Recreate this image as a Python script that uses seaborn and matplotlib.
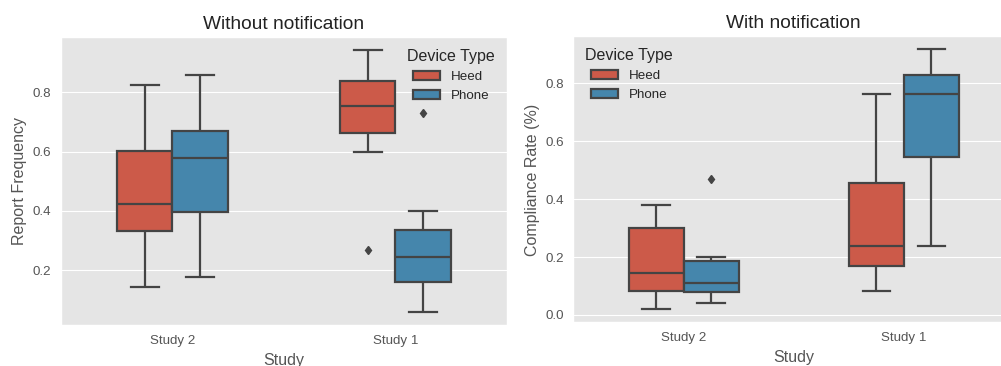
import matplotlib
matplotlib.use("Agg")
import matplotlib.pyplot as plt
import seaborn as sns
import pandas as pd

# ---- data ----
studies = ["Study 2", "Study 1"]
devices = ["Heed", "Phone"]

# Without notification: Report Frequency
wo_heed_study2 = [0.143, 0.24, 0.332, 0.38, 0.422, 0.52, 0.602, 0.70, 0.823]
wo_phone_study2 = [0.178, 0.30, 0.397, 0.50, 0.577, 0.62, 0.669, 0.76, 0.857]
wo_heed_study1 = [0.269, 0.600, 0.664, 0.71, 0.755, 0.80, 0.837, 0.89, 0.941]
wo_phone_study1 = [0.059, 0.11, 0.162, 0.20, 0.245, 0.29, 0.336, 0.400, 0.731]

# With notification: Compliance Rate
w_heed_study2 = [0.019, 0.05, 0.0835, 0.11, 0.144, 0.22, 0.299, 0.34, 0.380]
w_phone_study2 = [0.042, 0.06, 0.079, 0.09, 0.110, 0.15, 0.185, 0.201, 0.469]
w_heed_study1 = [0.082, 0.13, 0.1705, 0.20, 0.237, 0.35, 0.457, 0.60, 0.761]
w_phone_study1 = [0.237, 0.40, 0.544, 0.68, 0.761, 0.80, 0.829, 0.88, 0.916]

palette = ["#E24A33", "#348ABD"]


def long_frame(groups, ycol):
    rows = []
    for (study, device), vals in groups.items():
        for v in vals:
            rows.append({"Study": study, "Device Type": device, ycol: v})
    return pd.DataFrame(rows)


df_wo = long_frame({
    ("Study 2", "Heed"): wo_heed_study2,
    ("Study 2", "Phone"): wo_phone_study2,
    ("Study 1", "Heed"): wo_heed_study1,
    ("Study 1", "Phone"): wo_phone_study1,
}, "Report Frequency")

df_w = long_frame({
    ("Study 2", "Heed"): w_heed_study2,
    ("Study 2", "Phone"): w_phone_study2,
    ("Study 1", "Heed"): w_heed_study1,
    ("Study 1", "Phone"): w_phone_study1,
}, "Compliance Rate (%)")

plt.style.use("ggplot")
plt.rcParams["font.family"] = ["Liberation Sans", "DejaVu Sans"]

fig = plt.figure(figsize=(10.01, 3.66), dpi=100)
ax1 = fig.add_axes([0.0609, 0.1112, 0.4456, 0.7869])
ax2 = fig.add_axes([0.5729, 0.1189, 0.4401, 0.7814])

line_gray = "#444444"
box_kws = dict(
    x="Study", hue="Device Type", order=studies, hue_order=devices,
    palette=palette, saturation=0.75, width=0.5, linewidth=1.6,
    linecolor=line_gray,
    flierprops=dict(marker="d", markersize=4.5, markerfacecolor=line_gray,
                    markeredgecolor=line_gray),
)

sns.boxplot(data=df_wo, y="Report Frequency", ax=ax1, **box_kws)
sns.boxplot(data=df_w, y="Compliance Rate (%)", ax=ax2, **box_kws)

for ax, title, loc in [(ax1, "Without notification", "upper right"),
                       (ax2, "With notification", "upper left")]:
    ax.set_title(title, fontsize=13.8, color="#222222")
    ax.set_xlabel("Study", fontsize=11.5, color="#555555")
    ax.yaxis.label.set_size(11.5)
    ax.yaxis.label.set_color("#555555")
    ax.tick_params(axis="both", length=0, pad=7, labelsize=9.6, colors="#555555")
    ax.xaxis.grid(False)
    ax.set_xlim(-0.5, 1.5)
    leg = ax.legend(title="Device Type", loc=loc, frameon=False,
                    fontsize=9.6, title_fontsize=11.5)
    leg.get_title().set_color("#262626")
    for t in leg.get_texts():
        t.set_color("#262626")

ax1.set_yticks([0.2, 0.4, 0.6, 0.8])
ax2.set_yticks([0.0, 0.2, 0.4, 0.6, 0.8])

fig.savefig("out.png", dpi=100)
